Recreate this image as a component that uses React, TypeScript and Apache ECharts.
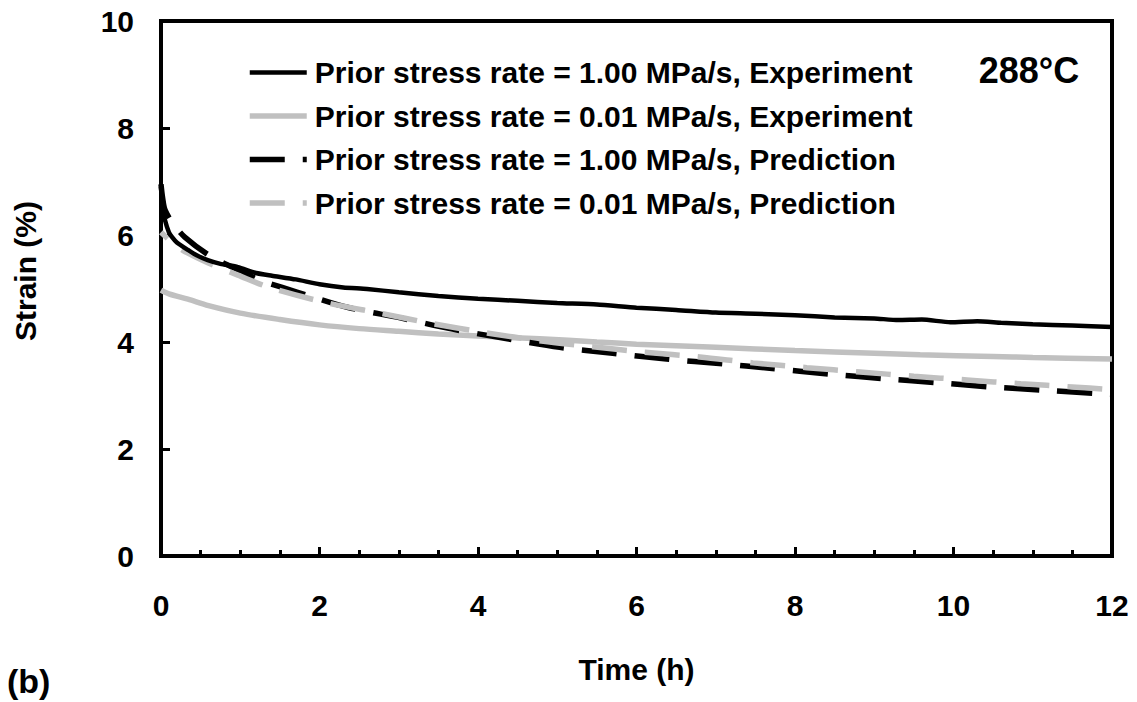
import React, { useEffect, useRef } from "react";
import * as echarts from "echarts";

const FONT = "'Liberation Sans', Arial, Helvetica, sans-serif";

const seriesNames = [
  "Prior stress rate = 1.00 MPa/s, Experiment",
  "Prior stress rate = 0.01 MPa/s, Experiment",
  "Prior stress rate = 1.00 MPa/s, Prediction",
  "Prior stress rate = 0.01 MPa/s, Prediction",
];

// Time (h) and strain (%)
const expFastTime = [0, 0.01, 0.03, 0.05, 0.1, 0.14, 0.2, 0.34, 0.45, 0.59, 0.75, 0.97, 1.2, 1.4, 1.7, 2.0, 2.3, 2.6, 3.0, 3.5, 4.0, 4.5, 5.0, 5.5, 6.0, 6.5, 7.0, 7.5, 8.0, 8.5, 9.0, 9.3, 9.6, 9.96, 10.3, 10.6, 11.0, 11.5, 12.0];
const expFastStrain = [6.9, 6.7, 6.45, 6.28, 6.05, 5.96, 5.86, 5.72, 5.62, 5.53, 5.46, 5.4, 5.29, 5.24, 5.17, 5.08, 5.02, 4.99, 4.93, 4.86, 4.81, 4.77, 4.73, 4.7, 4.64, 4.6, 4.55, 4.53, 4.5, 4.46, 4.44, 4.41, 4.42, 4.37, 4.39, 4.36, 4.33, 4.31, 4.28];

const expSlowTime = [0, 0.1, 0.34, 0.6, 1.0, 1.5, 2.0, 2.5, 3.0, 3.5, 4.0, 4.78, 5.5, 6.0, 7.0, 8.0, 9.0, 9.58, 10.5, 11.0, 12.0];
const expSlowStrain = [4.97, 4.9, 4.8, 4.68, 4.54, 4.42, 4.32, 4.25, 4.2, 4.15, 4.11, 4.06, 4.0, 3.96, 3.9, 3.84, 3.79, 3.76, 3.73, 3.71, 3.68];

const predFastTime = [0, 0.02, 0.05, 0.14, 0.3, 0.64, 1.06, 1.22, 1.53, 1.9, 2.35, 3.02, 3.68, 4.37, 5.03, 5.7, 6.38, 7.09, 7.68, 8.44, 9.16, 9.79, 10.46, 11.13, 12.0];
const predFastStrain = [6.95, 6.7, 6.47, 6.24, 5.96, 5.59, 5.29, 5.17, 5.02, 4.85, 4.65, 4.45, 4.24, 4.06, 3.9, 3.79, 3.68, 3.59, 3.51, 3.4, 3.31, 3.24, 3.16, 3.1, 3.02];

const predSlowTime = [0, 0.18, 0.34, 0.59, 0.77, 0.97, 1.35, 2.1, 2.76, 3.4, 4.11, 4.8, 5.45, 6.1, 6.8, 7.47, 8.15, 8.82, 9.5, 10.17, 10.85, 11.5, 12.0];
const predSlowStrain = [6.05, 5.81, 5.66, 5.48, 5.37, 5.25, 5.03, 4.73, 4.54, 4.35, 4.17, 4.02, 3.91, 3.81, 3.72, 3.61, 3.52, 3.44, 3.36, 3.29, 3.22, 3.16, 3.11];

const xTicks = { min: 0, max: 12, interval: 2 };
const yTicks = { min: 0, max: 10, interval: 2 };

const pair = (t: number[], s: number[]) => t.map((v, i) => [v, s[i]]);

export default function App() {
  const ref = useRef<HTMLDivElement>(null);

  useEffect(() => {
    if (!ref.current) return;
    const chart = echarts.init(ref.current, undefined, { renderer: "svg" });
    const labelStyle = { fontFamily: FONT, fontWeight: "bold" as const, fontSize: 30, color: "#000" };
    const gray = "#c0c0c0";

    chart.setOption({
      animation: false,
      backgroundColor: "#fff",
      grid: {
        left: 161,
        right: 25,
        top: 21,
        bottom: 146,
        show: true,
        borderColor: "#000",
        borderWidth: 4,
        containLabel: false,
      },
      legend: {
        orient: "vertical",
        left: 247,
        top: 57,
        padding: 0,
        itemWidth: 57,
        itemHeight: 14,
        itemGap: 12.5,
        selectedMode: false,
        data: seriesNames.map((name) => ({ name, lineStyle: { dashOffset: 0 } })),
        itemStyle: { opacity: 0 },
        lineStyle: { width: "inherit" },
        textStyle: { ...labelStyle, fontSize: 30, lineHeight: 31, padding: [0, 0, 0, 3] },
      },
      xAxis: {
        type: "value",
        min: xTicks.min,
        max: xTicks.max,
        interval: xTicks.interval,
        name: "Time (h)",
        nameLocation: "middle",
        nameGap: 98,
        nameTextStyle: labelStyle,
        axisLine: { show: true, lineStyle: { color: "#000", width: 4 } },
        axisTick: { show: true, inside: true, length: 9, lineStyle: { color: "#000", width: 3 } },
        minorTick: { show: true, splitNumber: 4, length: 6, lineStyle: { color: "#000", width: 3 } },
        splitLine: { show: false },
        minorSplitLine: { show: false },
        axisLabel: { ...labelStyle, margin: 34 },
      },
      yAxis: {
        type: "value",
        min: yTicks.min,
        max: yTicks.max,
        interval: yTicks.interval,
        axisLine: { show: true, lineStyle: { color: "#000", width: 4 } },
        axisTick: { show: true, inside: true, length: 9, lineStyle: { color: "#000", width: 3 } },
        splitLine: { show: false },
        axisLabel: { ...labelStyle, margin: 27 },
      },
      graphic: [
        {
          type: "text",
          x: 25,
          y: 271,
          rotation: Math.PI / 2,
          style: {
            text: "Strain (%)",
            fontFamily: FONT,
            fontWeight: "bold",
            fontSize: 30,
            fill: "#000",
            align: "center",
            verticalAlign: "middle",
          },
        },
        {
          type: "text",
          x: 1029,
          y: 70,
          style: {
            text: "288°C",
            fontFamily: FONT,
            fontWeight: "bold",
            fontSize: 36,
            fill: "#000",
            align: "center",
            verticalAlign: "middle",
          },
        },
        {
          type: "text",
          x: 7,
          y: 664,
          style: {
            text: "(b)",
            fontFamily: FONT,
            fontWeight: "bold",
            fontSize: 34,
            fill: "#000",
            align: "left",
            verticalAlign: "top",
          },
        },
      ],
      series: [
        {
          name: seriesNames[0],
          type: "line",
          data: pair(expFastTime, expFastStrain),
          showSymbol: false,
          symbol: "none",
          smooth: 0.2,
          lineStyle: { color: "#000", width: 4.5 },
          itemStyle: { color: "#000" },
          z: 3,
        },
        {
          name: seriesNames[1],
          type: "line",
          data: pair(expSlowTime, expSlowStrain),
          showSymbol: false,
          symbol: "none",
          smooth: 0.3,
          lineStyle: { color: gray, width: 5.5 },
          itemStyle: { color: gray },
          z: 2,
        },
        {
          name: seriesNames[2],
          type: "line",
          data: pair(predFastTime, predFastStrain),
          showSymbol: false,
          symbol: "none",
          smooth: 0.3,
          lineStyle: { color: "#000", width: 5.5, type: [35, 18] },
          itemStyle: { color: "#000" },
          z: 2,
        },
        {
          name: seriesNames[3],
          type: "line",
          data: pair(predSlowTime, predSlowStrain),
          showSymbol: false,
          symbol: "none",
          smooth: 0.3,
          lineStyle: { color: gray, width: 5.5, type: [35, 18], dashOffset: 26 },
          itemStyle: { color: gray },
          z: 2,
        },
      ],
    });
    return () => chart.dispose();
  }, []);

  return (
    <div
      ref={ref}
      style={{ position: "fixed", left: 0, top: 0, width: 1137, height: 702, background: "#fff" }}
    />
  );
}
